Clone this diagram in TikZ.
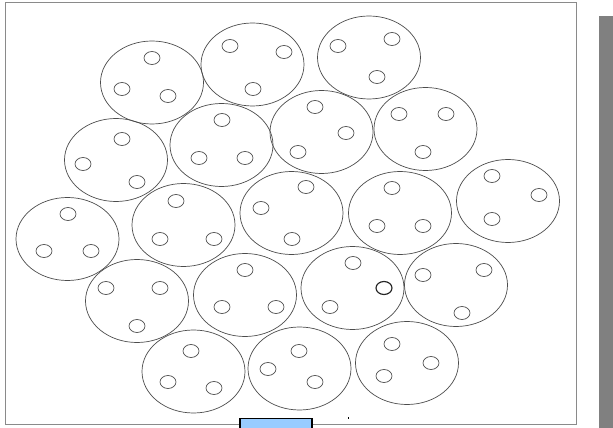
\documentclass[tikz,border=0pt]{standalone}
\usetikzlibrary{shapes.geometric}
\definecolor{framegray}{HTML}{8A8A8A}
\definecolor{bargray}{HTML}{808080}
\definecolor{tabblue}{HTML}{99CCFF}
\begin{document}
\begin{tikzpicture}[
x=0.03cm, y=-0.03cm,
cell/.style={
        ellipse,
        draw=black!70,
        line width=0.6pt,
        minimum width=3.09cm,
        minimum height=2.49cm,
        inner sep=0pt,
    },
hole/.style = {
   ellipse,
   draw=black!70,
   line width=0.6pt,
   minimum width=0.48cm,
   minimum height=0.39cm,
   inner sep=0pt,
   },
 ]
\useasboundingbox (0,0) rectangle (613,428);

\draw[framegray, line width=0.4mm] (5.5,2.5) rectangle (576.5,424.5);
\fill[bargray] (599,16) rectangle (613,428);

% row 1
\node[cell] (c1) at (152,82.5) {};
\node[hole] (c1a) at (152,58) {}; \node[hole] (c1b) at (122,89) {}; \node[hole] (c1c) at (168,96) {};
\node[cell] (c2) at (252.5,64.5) {};
\node[hole] (c2a) at (230,46) {}; \node[hole] (c2b) at (284,52) {}; \node[hole] (c2c) at (253,89) {};
\node[cell] (c3) at (369,57.5) {};
\node[hole] (c3a) at (338,46) {}; \node[hole] (c3b) at (392,39) {}; \node[hole] (c3c) at (377,77) {};

% row 2
\node[cell] (c4) at (116,160) {};
\node[hole] (c4a) at (122,139) {}; \node[hole] (c4b) at (83,164) {}; \node[hole] (c4c) at (137,182) {};
\node[cell] (c5) at (221.5,145) {};
\node[hole] (c5a) at (222,120) {}; \node[hole] (c5b) at (199,158) {}; \node[hole] (c5c) at (245,158) {};
\node[cell] (c6) at (321.5,132) {};
\node[hole] (c6a) at (315,107) {}; \node[hole] (c6b) at (346,133) {}; \node[hole] (c6c) at (298,152) {};
\node[cell] (c7) at (425.5,129) {};
\node[hole] (c7a) at (399,114) {}; \node[hole] (c7b) at (446,114) {}; \node[hole] (c7c) at (423,152) {};

% row 3
\node[cell] (c8) at (67.5,239) {};
\node[hole] (c8a) at (68,214) {}; \node[hole] (c8b) at (44,251) {}; \node[hole] (c8c) at (91,251) {};
\node[cell] (c9) at (183.5,225) {};
\node[hole] (c9a) at (176,201) {}; \node[hole] (c9b) at (160,239) {}; \node[hole] (c9c) at (214,239) {};
\node[cell] (c10) at (291.5,213) {};
\node[hole] (c10a) at (306,187) {}; \node[hole] (c10b) at (261,208) {}; \node[hole] (c10c) at (292,239) {};
\node[cell] (c11) at (400,213) {};
\node[hole] (c11a) at (392,188) {}; \node[hole] (c11b) at (377,226) {}; \node[hole] (c11c) at (423,226) {};
\node[cell] (c12) at (508,201) {};
\node[hole] (c12a) at (492,176) {}; \node[hole] (c12b) at (539,195) {}; \node[hole] (c12c) at (492,219) {};

% row 4
\node[cell] (c13) at (137,301) {};
\node[hole] (c13a) at (106,288) {}; \node[hole] (c13b) at (160,288) {}; \node[hole] (c13c) at (137,326) {};
\node[cell] (c14) at (245,295) {};
\node[hole] (c14a) at (245,270) {}; \node[hole] (c14b) at (222,307) {}; \node[hole] (c14c) at (276,307) {};
\node[cell] (c15) at (352.5,288) {};
\node[hole] (c15a) at (353,263) {}; \node[hole, line width=1pt, draw=black!85] (c15b) at (384,288) {}; \node[hole] (c15c) at (330,307) {};
\node[cell] (c16) at (456,285) {};
\node[hole] (c16a) at (423,275) {}; \node[hole] (c16b) at (484,270) {}; \node[hole] (c16c) at (462,313) {};

% row 5
\node[cell] (c17) at (193.5,371.5) {};
\node[hole] (c17a) at (191,351) {}; \node[hole] (c17b) at (168,382) {}; \node[hole] (c17c) at (214,388) {};
\node[cell] (c18) at (299.5,368.5) {};
\node[hole] (c18a) at (299,351) {}; \node[hole] (c18b) at (268,369) {}; \node[hole] (c18c) at (315,382) {};
\node[cell] (c19) at (407,363) {};
\node[hole] (c19a) at (392,344) {}; \node[hole] (c19b) at (431,363) {}; \node[hole] (c19c) at (384,376) {};

\draw[line width=0.45mm, fill=tabblue] (240,418.5) rectangle (312,432);
\fill[black] (347.5,417) rectangle (348.5,419);
\end{tikzpicture}
\end{document}
